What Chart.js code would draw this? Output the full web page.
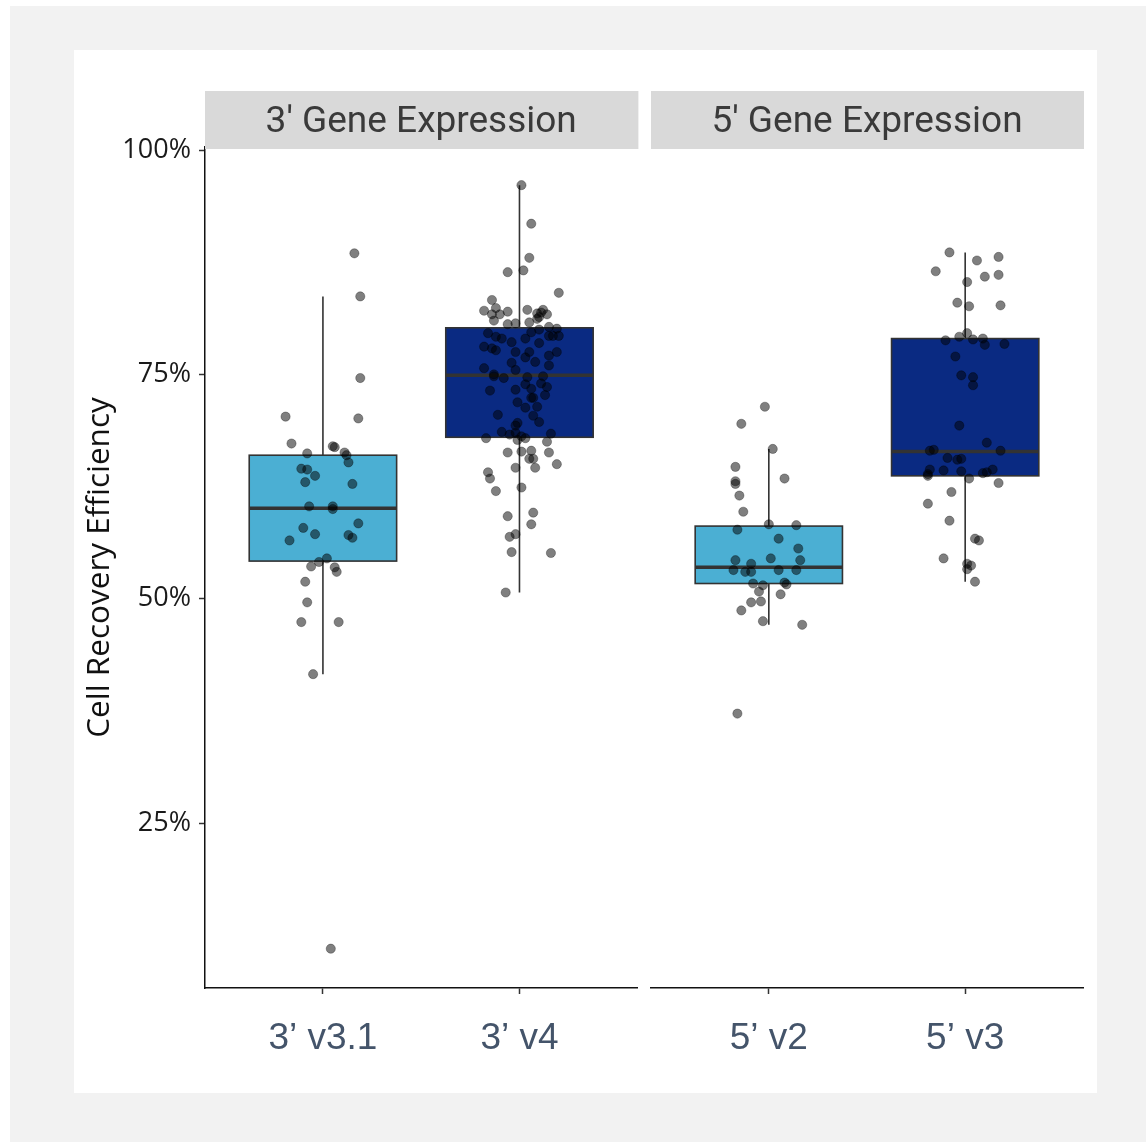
<!DOCTYPE html>
<html>
<head>
<meta charset="utf-8">
<script src="https://cdn.jsdelivr.net/npm/chart.js@4.4.1/dist/chart.umd.min.js"></script>
<style>
  html, body { margin: 0; padding: 0; background: #fff; }
  #frame { position: absolute; left: 10px; top: 6px; width: 1136px; height: 1136px; background: #f2f2f2; }
  #panel { position: absolute; left: 74px; top: 50px; width: 1023px; height: 1043px; background: #fff; }
  .wrap { position: absolute; top: 50px; height: 1043px; }
  #wrapA { left: 74px; width: 569px; }
  #wrapB { left: 645px; width: 452px; }
</style>
</head>
<body>
<div id="frame"></div>
<div id="panel"></div>
<div class="wrap" id="wrapA"><canvas id="chartA"></canvas></div>
<div class="wrap" id="wrapB"><canvas id="chartB"></canvas></div>
<script>
const panelTitles = ["3' Gene Expression", "5' Gene Expression"];
const leftCats = ["3’ v3.1", "3’ v4"];
const rightCats = ["5’ v2", "5’ v3"];
const yTicks = [25, 50, 75, 100];

// box stats: lower whisker, q1, median, q3, upper whisker
const boxV31 = [41.6, 54.2, 60.1, 66.0, 83.7];
const boxV4 = [50.7, 68.0, 74.9, 80.2, 96.1];
const boxV2 = [47.1, 51.7, 53.5, 58.1, 66.7];
const boxV3 = [51.9, 63.7, 66.4, 79.0, 88.6];

// jittered samples: [value, horizontal jitter]
const ptsV31 = [[88.5,0.16],[83.7,0.19],[74.6,0.19],[70.3,-0.19],[70.1,0.18],[67.3,-0.16],[67.0,0.05],[66.9,0.06],
  [66.2,-0.08],[66.3,0.11],[66.0,0.12],[65.2,0.13],[64.5,-0.11],[64.4,-0.08],[63.7,-0.04],[63.0,-0.09],[62.8,0.15],
  [60.3,-0.07],[60.3,0.05],[60.0,0.05],[58.4,0.18],[57.9,-0.10],[57.2,-0.04],[57.1,0.13],[56.8,0.15],[56.5,-0.17],
  [54.5,0.02],[54.1,-0.02],[53.6,-0.06],[53.5,0.06],[53.0,0.07],[51.9,-0.09],[49.6,-0.08],[47.4,-0.11],[47.4,0.08],
  [41.6,-0.05],[11.0,0.04]];
const ptsV4 = [[96.1,0.01],[91.8,0.06],[88.0,0.05],[86.4,-0.06],[86.6,0.02],[84.1,0.20],[83.3,-0.14],[82.1,-0.18],
  [82.4,-0.12],[81.7,-0.14],[81.7,-0.10],[82.0,-0.06],[81.0,-0.13],[82.2,0.04],[81.8,0.09],[81.9,0.11],[82.2,0.12],
  [81.7,0.14],[81.4,0.10],[81.2,0.09],[80.6,-0.06],[80.7,-0.02],[80.8,0.05],[80.0,0.10],[80.3,0.15],[80.1,0.19],
  [79.6,-0.16],[79.2,-0.12],[79.0,-0.09],[78.6,-0.04],[79.0,0.03],[79.7,0.06],[78.5,0.10],[79.3,0.15],[79.3,0.17],
  [79.3,0.20],[78.1,-0.18],[77.9,-0.14],[77.7,-0.12],[77.5,-0.02],[77.5,0.05],[76.9,0.03],[77.1,0.15],[77.5,0.19],
  [76.3,-0.04],[76.4,0.08],[76.0,0.15],[75.7,-0.18],[75.5,-0.02],[75.0,-0.13],[74.8,-0.13],[74.6,-0.08],[74.7,0.04],
  [74.8,0.12],[73.9,0.03],[74.0,0.11],[73.6,0.14],[73.2,-0.15],[73.3,-0.02],[73.4,0.06],[72.7,0.13],[72.4,0.06],
  [72.4,0.07],[71.9,-0.01],[71.3,0.03],[71.4,0.09],[70.5,-0.11],[70.4,0.07],[69.7,0.10],[69.6,-0.01],[69.3,-0.02],
  [68.6,-0.09],[68.3,-0.05],[68.5,-0.02],[68.1,0.01],[67.9,0.03],[68.4,0.16],[67.9,-0.17],[67.7,-0.01],[67.5,0.14],
  [66.3,-0.06],[66.4,0.01],[66.5,0.06],[66.3,0.15],[65.6,0.05],[65.6,0.07],[65.0,0.19],[64.1,-0.16],[64.6,-0.02],
  [64.6,0.08],[63.4,-0.15],[62.0,-0.12],[62.4,0.01],[59.6,0.07],[59.2,-0.06],[58.3,0.06],[57.2,-0.02],[56.9,-0.05],
  [55.2,-0.04],[55.1,0.16],[50.7,-0.07]];
const ptsV2 = [[71.4,-0.02],[69.5,-0.14],[66.7,0.02],[64.7,-0.17],[63.4,0.08],[63.1,-0.17],[62.8,-0.17],[61.5,-0.15],
  [59.7,-0.13],[57.7,-0.16],[58.3,0.00],[58.2,0.14],[56.7,0.05],[55.6,0.15],[54.5,0.01],[54.3,-0.17],[54.3,0.16],
  [53.9,-0.09],[53.2,-0.18],[53.0,-0.12],[53.0,-0.09],[53.2,0.05],[53.2,0.14],[51.7,-0.08],[51.5,-0.03],[51.8,0.08],
  [51.6,0.09],[50.8,-0.05],[50.5,0.06],[49.6,-0.09],[49.7,-0.04],[48.7,-0.14],[47.5,-0.03],[47.1,0.17],[37.2,-0.16]];
const ptsV3 = [[88.6,-0.08],[87.7,0.06],[88.1,0.17],[86.5,-0.15],[85.9,0.10],[86.1,0.17],[85.3,0.01],[83.0,-0.04],
  [82.6,0.02],[82.7,0.18],[79.6,0.01],[79.2,-0.03],[78.8,-0.10],[78.9,0.04],[79.0,0.09],[78.3,0.10],[78.4,0.20],
  [77.0,-0.05],[74.9,-0.02],[74.7,0.04],[73.8,0.04],[69.3,-0.03],[67.4,0.11],[66.5,-0.18],[66.6,-0.16],[66.5,0.18],
  [65.7,-0.09],[65.5,-0.04],[65.6,-0.02],[64.4,-0.18],[63.9,-0.19],[63.7,-0.19],[64.3,-0.11],[64.2,-0.02],[64.0,0.09],
  [64.1,0.11],[64.4,0.14],[63.4,0.02],[62.9,0.17],[61.9,-0.07],[60.6,-0.19],[58.7,-0.08],[56.7,0.05],[56.5,0.07],
  [54.5,-0.11],[53.9,0.01],[53.7,0.03],[53.3,0.01],[51.9,0.05]];

const lightBlue = '#4bafd3';
const navy = '#0a2a82';

// boxes and whiskers drawn under the points, positioned by the chart scales
const boxPlugin = {
  id: 'boxes',
  beforeDatasetsDraw(chart) {
    const {ctx, scales: {x, y}} = chart;
    chart.options.plugins.boxes.items.forEach((b, i) => {
      const cx = x.getPixelForValue(i + 1);
      const half = x.getPixelForValue(i + 1.375) - cx;
      const [lo, q1, med, q3, hi] = b.stats.map(v => y.getPixelForValue(v));
      ctx.save();
      ctx.strokeStyle = '#333';
      ctx.lineWidth = 1.6;
      ctx.beginPath();
      ctx.moveTo(cx, hi); ctx.lineTo(cx, q3);
      ctx.moveTo(cx, q1); ctx.lineTo(cx, lo);
      ctx.stroke();
      ctx.fillStyle = b.color;
      ctx.fillRect(cx - half, q3, half * 2, q1 - q3);
      ctx.strokeRect(cx - half, q3, half * 2, q1 - q3);
      ctx.lineWidth = 3.5;
      ctx.beginPath();
      ctx.moveTo(cx - half, med); ctx.lineTo(cx + half, med);
      ctx.stroke();
      ctx.restore();
    });
  }
};

const stripPlugin = {
  id: 'strip',
  afterDraw(chart) {
    const {ctx, chartArea} = chart;
    const top = chartArea.top;
    ctx.save();
    ctx.fillStyle = '#d9d9d9';
    ctx.fillRect(chartArea.left, top - 56, chartArea.right - chartArea.left + 1, 58);
    ctx.fillStyle = '#3a3a3a';
    ctx.font = '37px Roboto';
    ctx.textAlign = 'center';
    ctx.textBaseline = 'middle';
    ctx.fillText(chart.options.plugins.strip.text, (chartArea.left + chartArea.right) / 2, top - 24);
    ctx.restore();
  }
};

function jitter(pts, pos) {
  return pts.map(p => ({x: pos + p[1], y: p[0]}));
}

function makeChart(id, cats, boxes, ptsA, ptsB, title, showY, pad) {
  return new Chart(document.getElementById(id), {
    type: 'scatter',
    data: {
      datasets: [{
        data: jitter(ptsA, 1).concat(jitter(ptsB, 2)),
        backgroundColor: 'rgba(0,0,0,0.5)',
        borderColor: 'rgba(0,0,0,0.3)',
        borderWidth: 1,
        pointRadius: 4.6
      }]
    },
    options: {
      responsive: true,
      maintainAspectRatio: false,
      animation: false,
      layout: {padding: pad},
      plugins: {
        legend: {display: false},
        tooltip: {enabled: false},
        boxes: {items: boxes},
        strip: {text: title}
      },
      scales: {
        x: {
          type: 'linear',
          min: 0.4,
          max: 2.6,
          afterBuildTicks: (s) => { s.ticks = [{value: 1}, {value: 2}]; },
          afterFit: (s) => { s.height = 105; },
          grid: {display: true, drawOnChartArea: false, tickLength: 6, tickWidth: 1.5, tickColor: '#333'},
          border: {display: true, color: '#111', width: 1.5},
          ticks: {
            autoSkip: false,
            maxRotation: 0,
            padding: 23,
            color: '#44546a',
            font: {family: 'Liberation Sans', size: 37},
            callback: (v) => cats[v - 1]
          }
        },
        y: {
          display: showY,
          min: 6.62,
          max: 100.35,
          afterBuildTicks: (s) => { s.ticks = yTicks.map(v => ({value: v})); },
          afterFit: (s) => { s.width = showY ? 131 : 0; },
          grid: {display: true, drawOnChartArea: false, tickLength: 6, tickWidth: 1.5, tickColor: '#333'},
          border: {display: true, color: '#111', width: 1.5},
          ticks: {
            padding: 8,
            color: '#1a1a1a',
            font: {family: 'Open Sans', size: 27},
            callback: (v) => v + '%'
          },
          title: {
            display: true,
            text: 'Cell Recovery Efficiency',
            color: '#111',
            padding: {top: 7, bottom: 0},
            font: {family: 'Open Sans', size: 31.5}
          }
        }
      }
    },
    plugins: [boxPlugin, stripPlugin]
  });
}

makeChart('chartA', leftCats,
  [{stats: boxV31, color: lightBlue}, {stats: boxV4, color: navy}],
  ptsV31, ptsV4, panelTitles[0], true, {left: 0, right: 0, top: 97, bottom: 0});
makeChart('chartB', rightCats,
  [{stats: boxV2, color: lightBlue}, {stats: boxV3, color: navy}],
  ptsV2, ptsV3, panelTitles[1], false, {left: 6, right: 14, top: 97, bottom: 0});
</script>
</body>
</html>
